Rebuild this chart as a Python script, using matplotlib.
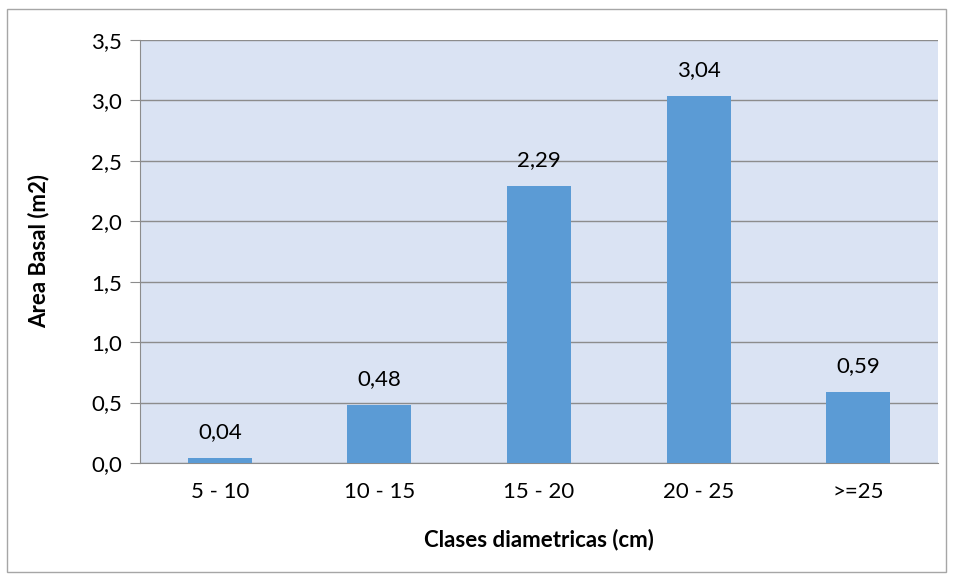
import matplotlib
matplotlib.use("Agg")
import matplotlib.pyplot as plt
from matplotlib.patches import Rectangle

categories = ["5 - 10", "10 - 15", "15 - 20", "20 - 25", ">=25"]
values = [0.04, 0.48, 2.29, 3.04, 0.59]
labels = ["0,04", "0,48", "2,29", "3,04", "0,59"]
yticks = [0.0, 0.5, 1.0, 1.5, 2.0, 2.5, 3.0, 3.5]
yticklabels = ["0,0", "0,5", "1,0", "1,5", "2,0", "2,5", "3,0", "3,5"]

plt.rcParams['font.family'] = ['Lato', 'DejaVu Sans']

fig = plt.figure(figsize=(9.54, 5.8), dpi=100)
fig.patches.append(Rectangle((7/954, 1 - 572/580), 939/954, 563/580, transform=fig.transFigure,
                             fill=False, edgecolor='#A6A6A6', linewidth=1.0))
ax = fig.add_axes([140/954, 1 - 463/580, 798/954, 423/580])
ax.set_facecolor('#DAE3F3')

x = range(len(categories))
ax.bar(x, values, width=0.4, color='#5B9BD5', zorder=3)
for xi, v, l in zip(x, values, labels):
    ax.text(xi, v + 0.13, l, ha='center', va='bottom', fontsize=16, color='#000000')

ax.set_xlim(-0.5, len(categories) - 0.5)
ax.set_ylim(0, 3.5)
ax.set_yticks(yticks)
ax.set_yticklabels(yticklabels, fontsize=16)
ax.set_xticks(list(x))
ax.set_xticklabels(categories, fontsize=16)
ax.grid(axis='y', color='#8C8C8C', linewidth=1.0, zorder=1)
ax.set_axisbelow(True)
for s in ['top', 'right']:
    ax.spines[s].set_visible(False)
ax.spines['left'].set_color('#8C8C8C')
ax.spines['bottom'].set_color('#8C8C8C')
ax.tick_params(axis='y', length=7, color='#8C8C8C', pad=6)
ax.tick_params(axis='x', length=0, pad=14)
ax.set_xlabel('Clases diametricas (cm)', fontsize=16, fontweight='bold', labelpad=19)
ax.set_ylabel('Area Basal (m2)', fontsize=16, fontweight='bold', labelpad=30)

fig.savefig('out.png', dpi=100)
